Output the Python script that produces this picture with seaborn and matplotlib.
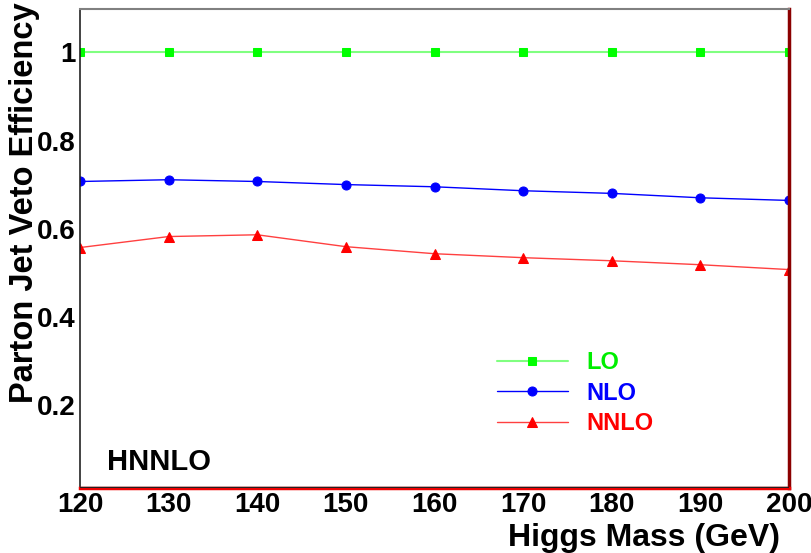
import matplotlib
matplotlib.use("Agg")
import matplotlib.pyplot as plt
import seaborn as sns
from matplotlib.ticker import MultipleLocator, FuncFormatter

# Data
higgs_mass = [120, 130, 140, 150, 160, 170, 180, 190, 200]
eff_lo = [1.0, 1.0, 1.0, 1.0, 1.0, 1.0, 1.0, 1.0, 1.0]
eff_nlo = [0.707, 0.711, 0.707, 0.700, 0.695, 0.686, 0.680, 0.670, 0.664]
eff_nnlo = [0.557, 0.582, 0.586, 0.559, 0.543, 0.534, 0.527, 0.518, 0.507]
labels = ["LO", "NLO", "NNLO"]

sns.set_style("white")
plt.rcParams["font.family"] = ["Liberation Sans", "DejaVu Sans"]
plt.rcParams["font.weight"] = "bold"
plt.rcParams["text.color"] = "black"
plt.rcParams["axes.labelcolor"] = "black"
plt.rcParams["xtick.labelcolor"] = "black"
plt.rcParams["ytick.labelcolor"] = "black"

fig = plt.figure(figsize=(8.11, 5.53), dpi=100)
ax = fig.add_axes([0.0986, 0.1175, 0.8744, 0.8665])

# --- curves ---
sns.lineplot(x=higgs_mass, y=eff_lo, ax=ax, color="#80ff80", lw=1.5, marker="s",
             markersize=6, markerfacecolor="#00ff00", markeredgecolor="#00ff00", label=labels[0])
sns.lineplot(x=higgs_mass, y=eff_nlo, ax=ax, color="#0000ff", lw=1.0, marker="o",
             markersize=6.5, markerfacecolor="#0000ff", markeredgecolor="#0000ff", label=labels[1])
sns.lineplot(x=higgs_mass, y=eff_nnlo, ax=ax, color="#ff4040", lw=1.0, marker="^",
             markersize=6.5, markerfacecolor="#ff0000", markeredgecolor="#ff0000", label=labels[2])

ax.set_xlim(120, 200)
ax.set_ylim(0.011, 1.099)

# --- ticks (ROOT style, inward) ---
ax.xaxis.set_major_locator(MultipleLocator(10))
ax.xaxis.set_minor_locator(MultipleLocator(2))
ax.yaxis.set_major_locator(MultipleLocator(0.2))
ax.yaxis.set_minor_locator(MultipleLocator(0.05))
ax.yaxis.set_major_formatter(FuncFormatter(lambda v, p: "%g" % round(v, 3)))
ax.tick_params(axis="x", which="major", direction="in", length=8.6, width=1, color="#444444",
               labelsize=20, pad=3)
ax.tick_params(axis="x", which="minor", direction="in", length=4.3, width=1, color="#444444")
ax.tick_params(axis="y", which="major", direction="in", length=15, width=1.3, color="#777777",
               labelsize=20, pad=3)
ax.tick_params(axis="y", which="minor", direction="in", length=7.5, width=1.3, color="#777777")
ax.tick_params(top=False, right=False, which="both")
for t in ax.get_xticklabels() + ax.get_yticklabels():
    t.set_fontweight("bold")

# --- frame ---
ax.spines["left"].set_color("#222222")
ax.spines["left"].set_linewidth(1.2)
ax.spines["top"].set_color("#808080")
ax.spines["top"].set_linewidth(1.5)
ax.spines["right"].set_color("#8b0000")
ax.spines["right"].set_linewidth(2.5)
ax.spines["bottom"].set_color("#ee0000")
ax.spines["bottom"].set_linewidth(2.5)
ax.axhline(0.0125, color="#222222", lw=1.0, zorder=5)

# --- labels ---
ax.set_xlabel("Higgs Mass (GeV)", fontsize=23, fontweight="bold", loc="right")
ax.xaxis.set_label_coords(0.987, -0.073)
ax.xaxis.label.set_va("top")
ax.set_ylabel("Parton Jet Veto Efficiency", fontsize=23.5, fontweight="bold", loc="top")
ax.yaxis.set_label_coords(-0.057, 1.014)
ax.text(0.038, 0.054, "HNNLO", transform=ax.transAxes, fontsize=21, fontweight="bold",
        color="black", ha="left", va="center")

# --- legend ---
leg = ax.legend(loc="upper left", bbox_to_anchor=(0.571, 0.31), frameon=False,
                fontsize=17, handlelength=3.0, handletextpad=0.8, labelspacing=0.31,
                borderpad=0, labelcolor=["#00ee00", "#0000ff", "#ff0000"])
for txt in leg.get_texts():
    txt.set_fontweight("bold")

fig.savefig("out.png", dpi=100)
